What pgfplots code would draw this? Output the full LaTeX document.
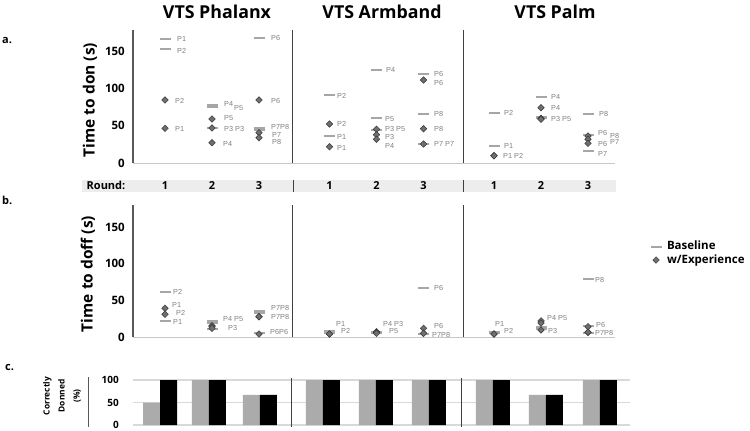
\documentclass[border=0pt]{standalone}
\usepackage{pgfplots}
\pgfplotsset{compat=1.18}
\usepackage{pgfplotstable}
\usepackage{fontspec}
\setmainfont{Open Sans}
\newfontfamily\labfont{Liberation Sans}

\definecolor{basegray}{HTML}{A6A6A6}
\definecolor{diafill}{HTML}{6F6F6F}
\definecolor{diadraw}{HTML}{3A3A3A}
\definecolor{labgray}{HTML}{808080}
\definecolor{axisdark}{HTML}{595959}
\definecolor{axislight}{HTML}{C8C8C8}
\definecolor{bandgray}{HTML}{EDEDED}
\definecolor{gridgray}{HTML}{D9D9D9}
\definecolor{bargray}{HTML}{ABABAB}
\definecolor{sepcol}{HTML}{404040}

% ---------- a. Time to don (x: rounds 1-3 of Phalanx, 4.5-6.5 Armband, 8-10 Palm)
\pgfplotstableread{
x y
1 166
1 152.6
2 77.4
2 74.7
2 47.4
3 167.3
3 46.5
3 44.3
4.5 90.8
4.5 36.2
5.5 124.4
5.5 60.4
5.5 44.3
6.5 119.5
6.5 65.8
6.5 25.5
8 66.7
8 22.8
9 88.2
9 62.2
9 60.4
10 65.4
10 37.6
10 16.1
}\aBase
\pgfplotstableread{
x y
1 84.6
1 46.5
2 59
2 47
2 27.3
3 84.6
3 40.7
3 34
4.5 52.3
4.5 21.9
5.5 45.2
5.5 38
5.5 31.8
6.5 111.4
6.5 46
6.5 25.5
8 9.8
8 9.8
9 74.2
9 60
9 58.7
10 36.2
10 31.8
10 26.4
}\aExp
% ---------- b. Time to doff
\pgfplotstableread{
x y
1 61.8
1 22.3
2 21.4
2 19.5
2 10.9
3 35.5
3 33.2
3 5.9
4.5 7.7
4.5 5.5
5.5 7.5
5.5 6.5
5.5 5.5
6.5 67.3
6.5 4.5
6.5 4.1
8 6.5
8 5.5
9 14
9 12.5
9 10.9
10 78.7
10 15.4
10 5.9
}\bBase
\pgfplotstableread{
x y
1 39.1
1 30.9
2 15.4
2 14
2 11.8
3 27.7
3 27.7
3 4.1
4.5 4.1
4.5 4.1
5.5 7.3
5.5 6
5.5 5
6.5 11.8
6.5 5
6.5 5
8 4.1
8 4.1
9 22
9 19
9 9.5
10 14
10 6.4
10 6.4
}\bExp
% ---------- c. Correctly donned (%)
\pgfplotstableread{
x y
1 50
1.94 100
2.92 67
4.13 100
5.15 100
6.17 100
7.4 100
8.42 67
9.46 100
}\cBase
\pgfplotstableread{
x y
1 100
1.94 100
2.92 67
4.13 100
5.15 100
6.17 100
7.4 100
8.42 67
9.46 100
}\cExp

\pgfplotsset{
 timepanel/.style={
   scale only axis, clip=false,
   width=482bp,
   xmin=0.319, xmax=10.574, ymin=0,
   axis x line*=bottom, axis y line*=left,
   x axis line style={-, draw=axislight, line width=1bp},
   y axis line style={-, draw=axisdark, line width=1.2bp},
   xtick=\empty, ytick={0,50,100,150},
   major tick length=0pt,
   /pgf/number format/assume math mode=true,
   yticklabel style={font=\fontsize{11.5bp}{13bp}\selectfont\bfseries, inner sep=0pt, xshift=-8bp},
   every axis y label/.style={rotate=90, anchor=center, font=\fontsize{15.5bp}{18bp}\selectfont\bfseries},
 },
 basemark/.style={only marks, mark=-, mark size=5.5bp, mark options={draw=basegray, line width=1.8bp}},
 expmark/.style={only marks, mark=square*, mark size=2.3bp, mark options={rotate=45, fill=diafill, draw=diadraw, line width=0.5bp}},
}
\tikzset{
 sepline/.style={draw=sepcol, line width=0.9bp},
 lab/.style={font=\labfont\fontsize{7.3bp}{8bp}\selectfont, text=labgray, anchor=west, inner sep=0pt, text height=5.2bp, text depth=0pt},
 ttl/.style={font=\fontsize{17.8bp}{20bp}\selectfont\bfseries, inner sep=0pt},
 rnd/.style={font=\fontsize{11bp}{13bp}\selectfont\bfseries, inner sep=0pt},
 pan/.style={font=\fontsize{11bp}{13bp}\selectfont\bfseries, inner sep=0pt, anchor=west},
}
\newcommand\lab[3]{\node[lab] at (#1bp,-#2bp) {#3};}

\begin{document}
\begin{tikzpicture}
\path[use as bounding box] (0,0) rectangle (750bp,-431bp);

% titles and panel letters
\node[ttl] at (217bp,-12bp) {VTS Phalanx};
\node[ttl] at (382bp,-12bp) {VTS Armband};
\node[ttl] at (555bp,-12bp) {VTS Palm};
\node[pan] at (2bp,-41bp) {a.};
\node[pan] at (2bp,-200bp) {b.};
\node[pan] at (5bp,-368bp) {c.};

% round band
\fill[bandgray] (82bp,-179.5bp) rectangle (616bp,-191.5bp);
\node[rnd] at (106bp,-185.5bp) {Round:};
\foreach \xx/\rr in {165/1,212/2,259/3,329.5/1,376.5/2,423.5/3,494/1,541/2,588/3}
  \node[rnd] at (\xx bp,-185.5bp) {\rr};
\draw[sepline] (293bp,-179.5bp) -- (293bp,-191.5bp);
\draw[sepline] (463bp,-179.5bp) -- (463bp,-191.5bp);

% ---------------- a.
\begin{axis}[timepanel, at={(133bp,-163bp)}, anchor=south west, height=133bp, ymax=178.5,
  ylabel={Time to don (s)}, ylabel style={at={(rel axis cs:-0.0892,0.474)}}]
\addplot[basemark] table {\aBase};
\addplot[expmark] table {\aExp};
\draw[sepline] (axis cs:3.72,0) -- (axis cs:3.72,178.5);
\draw[sepline] (axis cs:7.34,0) -- (axis cs:7.34,178.5);
\end{axis}

% ---------------- b.
\begin{axis}[timepanel, at={(133bp,-337bp)}, anchor=south west, height=132bp, ymax=180,
  ylabel={Time to doff (s)}, ylabel style={at={(rel axis cs:-0.0934,0.477)}},
  legend image code/.code={\path[draw=none, fill=none] (0bp,-1bp) rectangle (19bp,1bp);
    \draw[mark repeat=2,mark phase=2,#1] plot coordinates {(0bp,0bp) (9bp,0bp) (19bp,0bp)};},
  legend style={at={(rel axis cs:1.066,0.633)}, anchor=west, draw=none, fill=none,
    inner sep=0pt, row sep=0pt, font=\fontsize{11.5bp}{13bp}\selectfont\bfseries,
    nodes={inner sep=1bp, text height=8.7bp, text depth=2.6bp}},
  legend cell align=left]
\addplot[basemark] table {\bBase};
\addlegendentry{Baseline}
\addplot[expmark] table {\bExp};
\addlegendentry{w/Experience}
\draw[sepline] (axis cs:3.72,0) -- (axis cs:3.72,180);
\draw[sepline] (axis cs:7.34,0) -- (axis cs:7.34,180);
\end{axis}

% ---------------- c.
\begin{axis}[scale only axis, clip=false, at={(133bp,-425bp)}, anchor=south west,
  width=497bp, height=45bp, xmin=0.48, xmax=10.04, ymin=0, ymax=100,
  ybar=0pt, bar width=17bp,
  axis line style={draw=none}, xtick=\empty, ytick={0,50,100},
  major tick length=0pt, ymajorgrids, grid style={draw=gridgray, line width=1.3bp},
  /pgf/number format/assume math mode=true,
  yticklabel style={font=\fontsize{10bp}{12bp}\selectfont\bfseries, inner sep=0pt, xshift=-14bp}]
\addplot[fill=bargray, draw=none] table {\cBase};
\addplot[fill=black, draw=none] table {\cExp};
\draw[sepline] (axis cs:3.52,-4.4) -- (axis cs:3.52,104.4);
\draw[sepline] (axis cs:6.79,-4.4) -- (axis cs:6.79,104.4);
\end{axis}
\node[rotate=90, align=center, font=\fontsize{8.4bp}{15bp}\selectfont\bfseries, inner sep=0pt]
  at (62bp,-396bp) {Correctly\\Donned\\(\%)};
\draw[draw=axisdark, line width=1bp] (88bp,-377bp) -- (88bp,-427bp);

% ---------------- point labels, a.
\lab{177}{39}{P1}
\lab{177}{51}{P2}
\lab{175}{101}{P2}
\lab{175}{129}{P1}
\lab{224}{104}{P4}
\lab{234}{108}{P5}
\lab{224}{118}{P5}
\lab{224}{129}{P3 P3}
\lab{223}{144}{P4}
\lab{271}{38}{P6}
\lab{271}{101}{P6}
\lab{271}{127}{P7P8}
\lab{272}{135}{P7}
\lab{272}{142}{P8}
\lab{337}{96}{P2}
\lab{337}{124}{P2}
\lab{337}{137}{P1}
\lab{337}{148}{P1}
\lab{386}{70}{P4}
\lab{385}{119}{P5}
\lab{385}{129}{P3 P5}
\lab{385}{137}{P3}
\lab{385}{146}{P4}
\lab{434}{74}{P6}
\lab{434}{83}{P6}
\lab{434}{114}{P8}
\lab{434}{129}{P8}
\lab{434}{144}{P7 P7}
\lab{504}{113}{P2}
\lab{504}{146}{P1}
\lab{503}{156}{P1 P2}
\lab{551}{97}{P4}
\lab{551}{108}{P4}
\lab{551}{119}{P3 P5}
\lab{599}{114}{P8}
\lab{598}{133}{P6}
\lab{610}{136}{P8}
\lab{598}{144}{P6}
\lab{610}{142}{P7}
\lab{598}{154}{P7}
% ---------------- point labels, b.
\lab{173}{292}{P2}
\lab{172}{305}{P1}
\lab{176}{313}{P2}
\lab{173}{322}{P1}
\lab{223}{319}{P4 P5}
\lab{228}{328}{P3}
\lab{271}{308}{P7P8}
\lab{271}{317}{P7P8}
\lab{270}{332}{P6P6}
\lab{336}{324}{P1}
\lab{341}{331}{P2}
\lab{383}{324}{P4 P3}
\lab{389}{331}{P5}
\lab{434}{288}{P6}
\lab{434}{326}{P6}
\lab{432}{335}{P7P8}
\lab{495}{324}{P1}
\lab{504}{331}{P2}
\lab{547}{318}{P4 P5}
\lab{548}{331}{P3}
\lab{595}{280}{P8}
\lab{596}{325}{P6}
\lab{595}{333}{P7P8}
\end{tikzpicture}
\end{document}
